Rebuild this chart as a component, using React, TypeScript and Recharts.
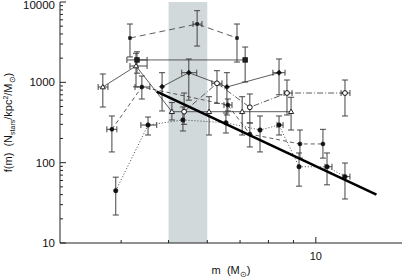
import React from 'react';
import { ScatterChart, Scatter, XAxis, YAxis, ErrorBar, ReferenceArea } from 'recharts';

// ---------- data (m in solar masses, f in N_stars/kpc^2/Msun) ----------
// series A: long dashed
const aM = [4.17, 5.72, 6.9];
const aF = [3560, 5320, 3560];
const aLo = [2070, 2830, 1790];
const aHi = [5320, 7800, 5320];
const aXLo = [null, 5.61, null];
const aXHi = [null, 5.85, null];
// series B: solid, squares
const bM = [4.31, 7.17];
const bF = [1900, 1900];
const bLo = [1300, 1010];
const bHi = [2400, 2750];
const bXLo = [4.11, null];
const bXHi = [4.52, null];
// series C: solid, triangles
const cM = [3.67, 4.29, 5.08, 6.05, 7.07, 8.9];
const cF = [875, 1597, 431, 431, 431, 431];
const cLo = [493, 880, 340, 221, 221, 255];
const cHi = [1270, 2300, 560, 662, 662, 652];
const cXLo = [3.59, 4.17, null, null, null, null];
const cXHi = [3.76, 4.52, null, null, null, null];
// series D: solid, diamonds
const dM = [4.85, 5.5, 6.58, 8.41];
const dF = [882, 1318, 875, 1318];
const dLo = [440, 600, 392, 700];
const dHi = [1318, 1952, 1318, 1952];
const dXLo = [null, 5.32, null, 8.17];
const dXHi = [null, 5.71, null, 8.65];
// series E: dash-dot, open circles
const eM = [5.38, 6.28, 7.33, 8.73, 11.47];
const eF = [431, 972, 489, 736, 736];
const eLo = [300, 548, 312, 392, 381];
const eHi = [736, 1396, 716, 1069, 1069];
const eXLo = [null, 6.13, null, 8.61, 11.26];
const eXHi = [null, 6.43, null, 8.94, 11.74];
// series F: dashed, filled circles
const fM = [3.83, 4.41, 6.61, 7.33, 9.28, 10.34];
const fF = [260, 875, 522, 227, 171, 171];
const fLo = [136, 620, 440, 157, 114, 114];
const fHi = [381, 1199, 620, 312, 255, 260];
const fXLo = [3.74, 4.27, 6.49, null, null, null];
const fXHi = [3.92, 4.58, 6.74, null, null, null];
// series G: dotted, filled circles
const gM = [3.9, 4.54, 5.35, 6.55, 7.69, 8.41, 9.24, 10.54, 11.47];
const gF = [44.8, 294, 340, 314, 255, 294, 89, 89, 67];
const gLo = [22.3, 221, 248, 234, 136, 221, 51, 53, 35.3];
const gHi = [66, 370, 493, 415, 381, 381, 132, 132, 99];
const gXLo = [null, 4.39, null, null, null, 8.33, null, 10.44, 11.36];
const gXHi = [null, 4.73, null, null, null, 8.57, null, 10.79, 11.74];
// thick power-law fit
const hM = [4.73, 13.3];
const hF = [765, 40];

// shaded mass range
const SHADE = [5, 6];

// axes
const X_DOMAIN = [3, 15];
const Y_DOMAIN = [10, 10000];
const X_TICKS = [4, 5, 6, 7, 8, 9, 10];
const X_MAJOR = [10];
const Y_TICKS = [
  10, 20, 30, 40, 50, 60, 70, 80, 90,
  100, 200, 300, 400, 500, 600, 700, 800, 900,
  1000, 2000, 3000, 4000, 5000, 6000, 7000, 8000, 9000, 10000,
];
const Y_MAJOR = [10, 100, 1000, 10000];

// ---------- helpers ----------
type Pt = { m: number; f: number; ey?: [number, number]; ex?: [number, number] };
function build(m: number[], f: number[], lo?: number[], hi?: number[], xlo?: (number | null)[], xhi?: (number | null)[]): Pt[] {
  return m.map((mv, i) => {
    const p: Pt = { m: mv, f: f[i] };
    if (lo && hi) p.ey = [f[i] - lo[i], hi[i] - f[i]];
    if (xlo && xhi && xlo[i] != null && xhi[i] != null) p.ex = [mv - (xlo[i] as number), (xhi[i] as number) - mv];
    return p;
  });
}

const A = build(aM, aF, aLo, aHi, aXLo, aXHi);
const B = build(bM, bF, bLo, bHi, bXLo, bXHi);
const C = build(cM, cF, cLo, cHi, cXLo, cXHi);
const D = build(dM, dF, dLo, dHi, dXLo, dXHi);
const E = build(eM, eF, eLo, eHi, eXLo, eXHi);
const F = build(fM, fF, fLo, fHi, fXLo, fXHi);
const G = build(gM, gF, gLo, gHi, gXLo, gXHi);
const H = build(hM, hF);

const AXIS = '#222';
const LINE = '#333';
const BAR = '#444';
const FONT = '"Liberation Sans", Arial, Helvetica, sans-serif';

const isMajor = (v: number, list: number[]) => list.some((t) => Math.abs(t - v) < 1e-9);

const XTickBottom = (props: any) => {
  const { x, y, payload } = props;
  const major = isMajor(payload.value, X_MAJOR);
  return (
    <g>
      <line x1={x} x2={x} y1={y} y2={y - (major ? 6 : 3)} stroke={AXIS} strokeWidth={1} />
      {major && (
        <text x={x} y={y + 17} textAnchor="middle" fontSize={11} fontFamily={FONT} fill="#111">
          {payload.value}
        </text>
      )}
    </g>
  );
};
const XTickTop = (props: any) => {
  const { x, y, payload } = props;
  const major = isMajor(payload.value, X_MAJOR);
  return <line x1={x} x2={x} y1={y} y2={y + (major ? 6 : 3)} stroke={AXIS} strokeWidth={1} />;
};
const YTickLeft = (props: any) => {
  const { x, y, payload } = props;
  const major = isMajor(payload.value, Y_MAJOR);
  const isTop = Math.abs(payload.value - Y_DOMAIN[1]) < 1e-9;
  return (
    <g>
      <line x1={x} x2={x + (major ? 6 : 3)} y1={y} y2={y} stroke={AXIS} strokeWidth={1} />
      {major && (
        <text x={x - 5} y={y + (isTop ? 2.5 : 0)} dy="0.36em" textAnchor="end" fontSize={11.5} fontFamily={FONT} fill="#111">
          {payload.value}
        </text>
      )}
    </g>
  );
};
const YTickRight = (props: any) => {
  const { x, y, payload } = props;
  const major = isMajor(payload.value, Y_MAJOR);
  return <line x1={x} x2={x - (major ? 6 : 3)} y1={y} y2={y} stroke={AXIS} strokeWidth={1} />;
};

const XLabel = (props: any) => {
  const vb = props.viewBox || {};
  return (
    <text x={vb.x + vb.width / 2} y={vb.y + 31} textAnchor="middle" fontSize={11} fontFamily={FONT} fill="#111" style={{ whiteSpace: 'pre' }}>
      {'m  (M'}
      <tspan dy={2.5} fontSize={8}>⊙</tspan>
      <tspan dy={-2.5}>)</tspan>
    </text>
  );
};
const YLabel = (props: any) => {
  const vb = props.viewBox || {};
  const cy = vb.y + vb.height / 2;
  return (
    <text transform={`translate(12,${cy}) rotate(-90)`} textAnchor="middle" fontSize={11} fontFamily={FONT} fill="#111" style={{ whiteSpace: 'pre' }}>
      {'f(m)  (N'}
      <tspan dy={2.5} fontSize={7}>stars</tspan>
      <tspan dy={-2.5}>/kpc</tspan>
      <tspan dy={-4} fontSize={7}>2</tspan>
      <tspan dy={4}>/M</tspan>
      <tspan dy={2.5} fontSize={8}>⊙</tspan>
      <tspan dy={-2.5}>)</tspan>
    </text>
  );
};

// marker shapes
const filledDot = (r: number) => (p: any) => <circle cx={p.cx} cy={p.cy} r={r} fill="#111" stroke="#111" strokeWidth={0.6} />;
const openDot = (r: number) => (p: any) => <circle cx={p.cx} cy={p.cy} r={r} fill="#fff" stroke="#111" strokeWidth={1} />;
const square = (s: number) => (p: any) => <rect x={p.cx - s / 2} y={p.cy - s / 2} width={s} height={s} fill="#222" stroke="#111" strokeWidth={0.8} />;
const triangle = (s: number) => (p: any) => (
  <path d={`M${p.cx},${p.cy - s} L${p.cx + s},${p.cy + s * 0.7} L${p.cx - s},${p.cy + s * 0.7} Z`} fill="#fff" stroke="#111" strokeWidth={0.9} />
);
const diamond = (s: number) => (p: any) => (
  <path d={`M${p.cx},${p.cy - s} L${p.cx + s},${p.cy} L${p.cx},${p.cy + s} L${p.cx - s},${p.cy} Z`} fill="#111" stroke="#111" strokeWidth={0.6} />
);
const none = () => <g />;

const bars = [
  <ErrorBar key="ey" dataKey="ey" direction="y" width={3} stroke={BAR} strokeWidth={1} isAnimationActive={false} />,
  <ErrorBar key="ex" dataKey="ex" direction="x" width={3} stroke={BAR} strokeWidth={1} isAnimationActive={false} />,
];

export default function App() {
  return (
    <div style={{ position: 'fixed', left: 0, top: 0, width: 403, height: 277, background: '#fff' }}>
      <ScatterChart width={403} height={277} margin={{ top: 2, right: 1, bottom: 0, left: 0 }}>
        <XAxis
          dataKey="m"
          type="number"
          scale="log"
          domain={X_DOMAIN}
          allowDataOverflow
          ticks={X_TICKS}
          interval={0}
          tick={XTickBottom}
          tickLine={false}
          tickSize={0}
          tickMargin={0}
          height={34}
          axisLine={{ stroke: AXIS, strokeWidth: 1 }}
          label={{ content: XLabel }}
        />
        <XAxis
          xAxisId="top"
          orientation="top"
          dataKey="m"
          type="number"
          scale="log"
          domain={X_DOMAIN}
          allowDataOverflow
          ticks={X_TICKS}
          interval={0}
          tick={XTickTop}
          tickLine={false}
          tickSize={0}
          tickMargin={0}
          height={0}
          axisLine={{ stroke: AXIS, strokeWidth: 1 }}
        />
        <YAxis
          dataKey="f"
          type="number"
          scale="log"
          domain={Y_DOMAIN}
          allowDataOverflow
          ticks={Y_TICKS}
          interval={0}
          tick={YTickLeft}
          tickLine={false}
          tickSize={0}
          tickMargin={0}
          width={60}
          axisLine={{ stroke: AXIS, strokeWidth: 1 }}
          label={{ content: YLabel }}
        />
        <YAxis
          yAxisId="right"
          orientation="right"
          dataKey="f"
          type="number"
          scale="log"
          domain={Y_DOMAIN}
          allowDataOverflow
          ticks={Y_TICKS}
          interval={0}
          tick={YTickRight}
          tickLine={false}
          tickSize={0}
          tickMargin={0}
          width={0}
          axisLine={{ stroke: AXIS, strokeWidth: 1 }}
        />
        <ReferenceArea x1={SHADE[0]} x2={SHADE[1]} y1={Y_DOMAIN[0]} y2={Y_DOMAIN[1]} fill="#d2d9db" fillOpacity={1} stroke="none" ifOverflow="hidden" />
        <Scatter data={H} xAxisId="top" yAxisId="right" shape={none} isAnimationActive={false} />
        <Scatter data={A} shape={square(2.5)} line={{ stroke: LINE, strokeWidth: 0.8, strokeDasharray: '6 4' }} isAnimationActive={false}>{bars}</Scatter>
        <Scatter data={B} shape={square(4.5)} line={{ stroke: LINE, strokeWidth: 0.8 }} isAnimationActive={false}>{bars}</Scatter>
        <Scatter data={C} shape={triangle(2.6)} line={{ stroke: LINE, strokeWidth: 0.8 }} isAnimationActive={false}>{bars}</Scatter>
        <Scatter data={D} shape={diamond(2.6)} line={{ stroke: LINE, strokeWidth: 0.8 }} isAnimationActive={false}>{bars}</Scatter>
        <Scatter data={E} shape={openDot(2.4)} line={{ stroke: LINE, strokeWidth: 0.8, strokeDasharray: '6 2 1 2' }} isAnimationActive={false}>{bars}</Scatter>
        <Scatter data={F} shape={filledDot(2)} line={{ stroke: LINE, strokeWidth: 0.8, strokeDasharray: '4 3' }} isAnimationActive={false}>{bars}</Scatter>
        <Scatter data={G} shape={filledDot(2.2)} line={{ stroke: LINE, strokeWidth: 0.9, strokeDasharray: '1 2' }} isAnimationActive={false}>{bars}</Scatter>
        <Scatter data={H} shape={none} line={{ stroke: '#000', strokeWidth: 2.6 }} isAnimationActive={false} />
      </ScatterChart>
    </div>
  );
}
